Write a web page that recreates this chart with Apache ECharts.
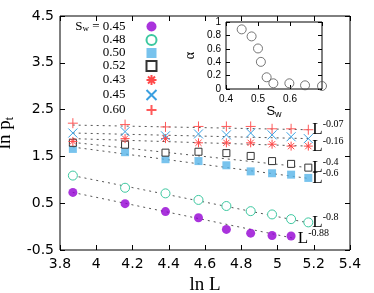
<!DOCTYPE html>
<html>
<head>
<meta charset="utf-8">
<script src="https://cdn.jsdelivr.net/npm/echarts@6/dist/echarts.min.js"></script>
<style>html,body{margin:0;padding:0;background:#fff;}#c{width:374px;height:293px;}</style>
</head>
<body>
<div id="c"></div>
<script>
// ln L positions of the system sizes
var lnL = [3.871, 4.159, 4.382, 4.564, 4.718, 4.852, 4.970, 5.075, 5.170];
// ln p_t values per S_w series
var sw045 = [0.73, 0.49, 0.32, 0.19, -0.06, -0.14, -0.19, -0.20];
var sw048 = [1.09, 0.83, 0.71, 0.57, 0.44, 0.33, 0.26, 0.16, 0.09];
var sw050 = [1.66, 1.59, 1.44, 1.40, 1.31, 1.18, 1.14, 1.11, 1.04];
var sw052 = [1.79, 1.75, 1.58, 1.60, 1.57, 1.51, 1.40, 1.34, 1.26];
var sw043 = [1.82, 1.88, 1.88, 1.79, 1.79, 1.79, 1.76, 1.72, 1.72];
var sw045b = [2.00, 2.03, 1.94, 1.98, 1.96, 2.00, 1.96, 1.92, 1.88];
var sw060 = [2.21, 2.18, 2.13, 2.14, 2.14, 2.14, 2.09, 2.09, 2.07];
// fit line endpoints
var fitX = [3.87, 5.17];
var fitX045 = [3.87, 5.09];
var fit060 = [2.17, 2.07];
var fit045b = [2.00, 1.88];
var fit043 = [1.88, 1.72];
var fit052 = [1.80, 1.26];
var fit050 = [1.70, 1.03];
var fit048 = [1.09, 0.08];
var fit045 = [0.73, -0.25];
var fitLabels = ['-0.07', '', '-0.16', '-0.4', '-0.6', '-0.8', '-0.88'];
// legend labels
var legendNames = ['S_w = 0.45', '0.48', '0.50', '0.52', '0.43', '0.45', '0.60'];
// inset data
var insetSw = [0.449, 0.48, 0.50, 0.509, 0.527, 0.548, 0.598, 0.647, 0.70];
var insetAlpha = [0.89, 0.785, 0.605, 0.405, 0.175, 0.085, 0.085, 0.055, 0.045];

function zip(xs, ys) { return ys.map(function (y, i) { return [xs[i], y]; }); }

var SANS = 'DejaVu Sans';
var SERIF = 'Liberation Serif';

var colors = ['#9400d3', '#3cc8a0', '#56b4e9', '#333333', '#ff4a4a', '#3a9fe0', '#ff5a5a'];
var symbols = [
  'circle', 'circle', 'rect', 'rect',
  'path://M5,0L5,10M0,5L10,5M1.5,1.5L8.5,8.5M8.5,1.5L1.5,8.5',
  'path://M0,0L10,10M10,0L0,10',
  'path://M5,0L5,10M0,5L10,5'
];
var filled = [true, false, true, false, false, false, false];
var sizes = [9, 9, 8, 7, 9, 9, 10];
var seriesVals = [sw045, sw048, sw050, sw052, sw043, sw045b, sw060];

var series = [];
var fits = [fit060, fit045b, fit043, fit052, fit050, fit048, fit045];
fits.forEach(function (f, i) {
  var xs = (f === fit045) ? fitX045 : fitX;
  var lab = fitLabels[i];
  series.push({
    type: 'line', name: 'fit' + i, xAxisIndex: 0, yAxisIndex: 0,
    data: zip(xs, f), showSymbol: false, symbol: 'none', silent: true,
    lineStyle: { color: '#555', width: 1, type: [2, 4] }, z: 1,
    endLabel: lab ? {
      show: true, distance: 4,
      formatter: '{a|L}{b|' + lab + '}',
      rich: {
        a: { fontFamily: SERIF, fontSize: 17, color: '#000', lineHeight: 20 },
        b: { fontFamily: SERIF, fontSize: 10, color: '#000', lineHeight: 10, verticalAlign: 'top' }
      }
    } : { show: false }
  });
});
seriesVals.forEach(function (vals, i) {
  series.push({
    type: 'scatter', name: legendNames[i], xAxisIndex: 0, yAxisIndex: 0,
    data: zip(lnL, vals), symbol: symbols[i], symbolSize: sizes[i], z: 3,
    itemStyle: filled[i] ? { color: colors[i] } :
      { color: (i < 4 ? '#fff' : 'none'), borderColor: colors[i], borderWidth: 1, opacity: 1 }
  });
});
series.push({
  type: 'scatter', name: 'alpha', xAxisIndex: 2, yAxisIndex: 2,
  data: zip(insetSw, insetAlpha), symbol: 'circle', symbolSize: 9,
  itemStyle: { color: 'none', borderColor: '#555', borderWidth: 1 }, z: 5
});

var tickOnly = { show: true, inside: true, length: 5, lineStyle: { color: '#000' } };
var tickIn = { show: true, inside: true, length: 4, lineStyle: { color: '#000' } };
var noLine = { show: false, onZero: false };

var option = {
  animation: false,
  backgroundColor: '#fff',
  legend: {
    data: legendNames, orient: 'vertical', align: 'right',
    right: 215, top: 20, padding: 0, itemWidth: 10, itemHeight: 10, itemGap: 0,
    selectedMode: false,
    textStyle: {
      fontFamily: SERIF, fontSize: 13, color: '#000', padding: [0, 16, 0, 0],
      rich: {
        s: { fontFamily: SERIF, fontSize: 13, color: '#000', lineHeight: 14 },
        w: { fontFamily: SERIF, fontSize: 9, color: '#000', lineHeight: 9, verticalAlign: 'bottom' }
      }
    },
    formatter: function (n) {
      if (n.indexOf('S_w') === 0) return '{s|S}{w|w}{s|' + n.slice(3) + '}';
      return '{s|' + n + '}';
    }
  },
  grid: [
    { left: 60, right: 24, top: 16, bottom: 43, show: true, borderColor: '#000', borderWidth: 1, backgroundColor: 'transparent', outerBoundsMode: 'none', containLabel: false },
    { left: 226, top: 22, width: 96, height: 67, show: true, borderColor: '#000', borderWidth: 1, backgroundColor: '#fff', z: 4, outerBoundsMode: 'none', containLabel: false }
  ],
  xAxis: [
    {
      gridIndex: 0, type: 'value', min: 3.8, max: 5.4, interval: 0.2,
      axisLine: noLine, axisTick: tickOnly, splitLine: { show: false },
      axisLabel: { fontFamily: SANS, fontSize: 14, color: '#000', margin: 7 },
      name: 'ln L', nameLocation: 'middle', nameGap: 21,
      nameTextStyle: { fontFamily: SERIF, fontSize: 19, color: '#000' }
    },
    {
      gridIndex: 0, type: 'value', position: 'top', min: 3.8, max: 5.4, interval: 0.2,
      axisLine: noLine, axisTick: tickOnly, axisLabel: { show: false }, splitLine: { show: false }
    },
    {
      gridIndex: 1, type: 'value', min: 0.4, max: 0.7, interval: 0.1,
      axisLine: noLine, axisTick: tickIn, splitLine: { show: false },
      axisLabel: { fontFamily: 'Liberation Sans', fontSize: 10, color: '#000', margin: 5, showMaxLabel: false },
      name: '{a|S}{b|w}', nameLocation: 'middle', nameGap: 10,
      nameTextStyle: {
        rich: {
          a: { fontFamily: 'Liberation Sans', fontSize: 13, color: '#000', lineHeight: 16 },
          b: { fontFamily: 'Liberation Sans', fontSize: 9, color: '#000', lineHeight: 9, verticalAlign: 'bottom' }
        }
      }, z: 5
    },
    {
      gridIndex: 1, type: 'value', position: 'top', min: 0.4, max: 0.7, interval: 0.1,
      axisLine: noLine, axisTick: tickIn, axisLabel: { show: false }, splitLine: { show: false }, z: 5
    }
  ],
  yAxis: [
    {
      gridIndex: 0, type: 'value', min: -0.5, max: 4.5, interval: 1,
      axisLine: noLine, axisTick: tickOnly, splitLine: { show: false },
      axisLabel: { fontFamily: SANS, fontSize: 14, color: '#000', margin: 6 },
      name: '{a|ln p}{b|t}', nameLocation: 'middle', nameGap: 30,
      nameTextStyle: {
        rich: {
          a: { fontFamily: SERIF, fontSize: 19, color: '#000', lineHeight: 22 },
          b: { fontFamily: SERIF, fontSize: 12, color: '#000', lineHeight: 12, verticalAlign: 'bottom' }
        }
      }
    },
    {
      gridIndex: 0, type: 'value', position: 'right', min: -0.5, max: 4.5, interval: 1,
      axisLine: noLine, axisTick: tickOnly, axisLabel: { show: false }, splitLine: { show: false }
    },
    {
      gridIndex: 1, type: 'value', min: 0, max: 1, interval: 0.2,
      axisLine: noLine, axisTick: tickIn, splitLine: { show: false },
      axisLabel: { fontFamily: 'Liberation Sans', fontSize: 10, color: '#000', margin: 5 },
      name: 'α', nameLocation: 'middle', nameGap: 29,
      nameTextStyle: { fontFamily: SERIF, fontSize: 14, color: '#000' }, z: 5
    },
    {
      gridIndex: 1, type: 'value', position: 'right', min: 0, max: 1, interval: 0.2,
      axisLine: noLine, axisTick: tickIn, axisLabel: { show: false }, splitLine: { show: false }, z: 5
    }
  ],
  series: series
};

var chart = echarts.init(document.getElementById('c'), null, { renderer: 'canvas' });
chart.setOption(option);
</script>
</body>
</html>
